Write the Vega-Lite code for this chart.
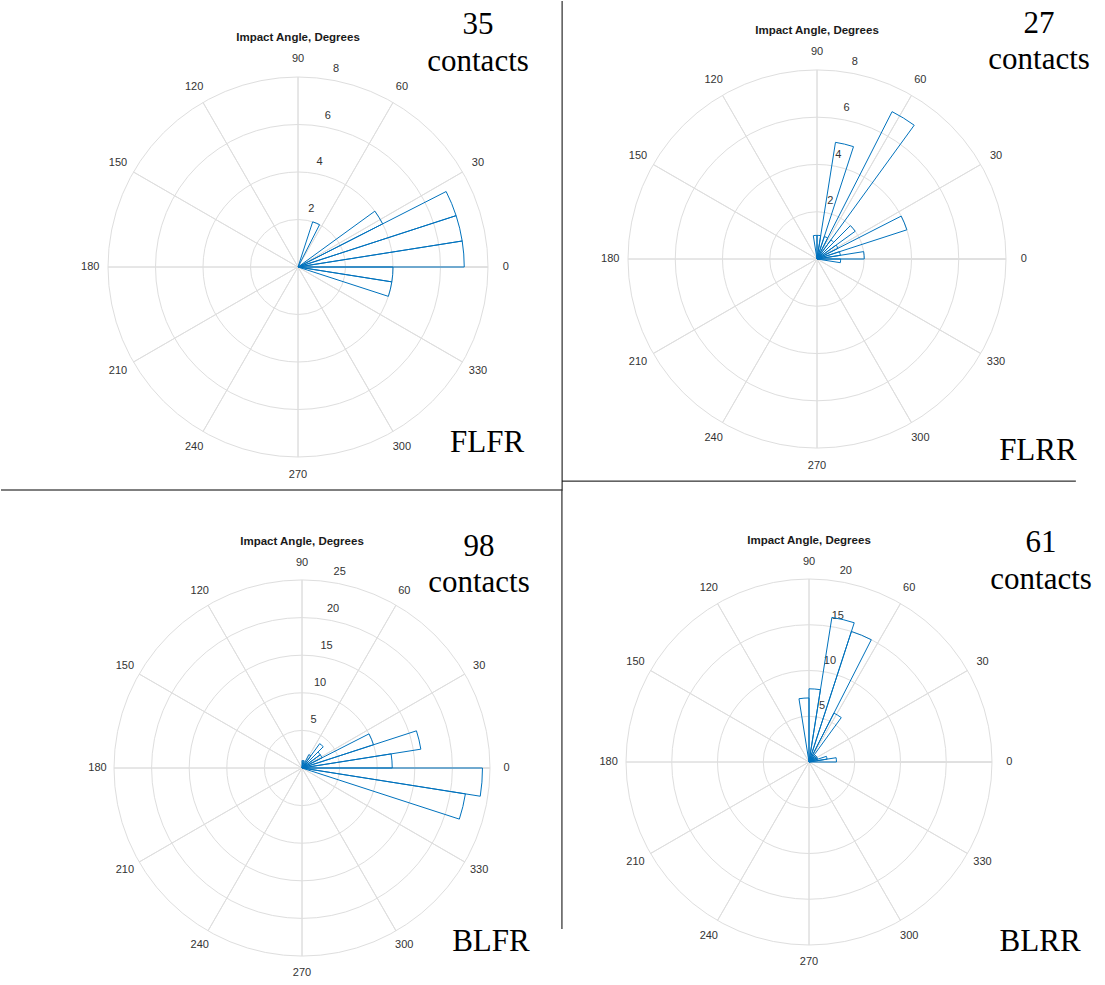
{
  "$schema": "https://vega.github.io/schema/vega-lite/v6.json",
  "padding": 0,
  "background": "white",
  "config": {"view": {"stroke": null}},
  "datasets": {
    "angles": [
      {"a": 0, "lab": "0"}, {"a": 30, "lab": "30"}, {"a": 60, "lab": "60"}, {"a": 90, "lab": "90"},
      {"a": 120, "lab": "120"}, {"a": 150, "lab": "150"}, {"a": 180, "lab": "180"}, {"a": 210, "lab": "210"},
      {"a": 240, "lab": "240"}, {"a": 270, "lab": "270"}, {"a": 300, "lab": "300"}, {"a": 330, "lab": "330"}
    ],
    "bins": [
      {"p": "FLFR", "s": 0, "e": 9, "c": 7}, {"p": "FLFR", "s": 9, "e": 18, "c": 7}, {"p": "FLFR", "s": 18, "e": 27, "c": 7},
      {"p": "FLFR", "s": 27, "e": 36, "c": 4}, {"p": "FLFR", "s": 63, "e": 72, "c": 2}, {"p": "FLFR", "s": 351, "e": 360, "c": 4},
      {"p": "FLFR", "s": 342, "e": 351, "c": 4},
      {"p": "FLRR", "s": 351, "e": 360, "c": 1}, {"p": "FLRR", "s": 0, "e": 9, "c": 2}, {"p": "FLRR", "s": 9, "e": 18, "c": 1},
      {"p": "FLRR", "s": 18, "e": 27, "c": 4}, {"p": "FLRR", "s": 27, "e": 36, "c": 1}, {"p": "FLRR", "s": 36, "e": 45, "c": 2},
      {"p": "FLRR", "s": 45, "e": 54, "c": 1}, {"p": "FLRR", "s": 54, "e": 63, "c": 7}, {"p": "FLRR", "s": 63, "e": 72, "c": 1},
      {"p": "FLRR", "s": 72, "e": 81, "c": 5}, {"p": "FLRR", "s": 81, "e": 90, "c": 1}, {"p": "FLRR", "s": 90, "e": 99, "c": 1},
      {"p": "BLFR", "s": 342, "e": 351, "c": 22}, {"p": "BLFR", "s": 351, "e": 360, "c": 24}, {"p": "BLFR", "s": 0, "e": 9, "c": 12},
      {"p": "BLFR", "s": 9, "e": 18, "c": 16}, {"p": "BLFR", "s": 18, "e": 27, "c": 10}, {"p": "BLFR", "s": 27, "e": 36, "c": 3},
      {"p": "BLFR", "s": 36, "e": 45, "c": 3}, {"p": "BLFR", "s": 45, "e": 54, "c": 4}, {"p": "BLFR", "s": 54, "e": 63, "c": 2},
      {"p": "BLFR", "s": 72, "e": 81, "c": 1}, {"p": "BLFR", "s": 81, "e": 90, "c": 1},
      {"p": "BLRR", "s": 0, "e": 9, "c": 3}, {"p": "BLRR", "s": 9, "e": 18, "c": 2}, {"p": "BLRR", "s": 18, "e": 27, "c": 1},
      {"p": "BLRR", "s": 27, "e": 36, "c": 1}, {"p": "BLRR", "s": 36, "e": 45, "c": 1}, {"p": "BLRR", "s": 45, "e": 54, "c": 1},
      {"p": "BLRR", "s": 54, "e": 63, "c": 6}, {"p": "BLRR", "s": 63, "e": 72, "c": 15}, {"p": "BLRR", "s": 72, "e": 81, "c": 16},
      {"p": "BLRR", "s": 81, "e": 90, "c": 8}, {"p": "BLRR", "s": 90, "e": 99, "c": 7}
    ]
  },
  "columns": 2,
  "spacing": 0,
  "bounds": "flush",
  "align": "each",
  "concat": [
    {
      "width": 594, "height": 532,
      "layer": [
        {"data": {"values": [{"r": 2}, {"r": 4}, {"r": 6}, {"r": 8}]},
         "mark": {"type": "arc", "filled": false, "stroke": "#dedede", "strokeWidth": 1},
         "encoding": {
           "theta": {"datum": 0, "type": "quantitative", "stack": null, "scale": {"type": "linear", "domain": [0, 360], "range": [1.5707963, -4.712389], "nice": false, "zero": false}},
           "theta2": {"datum": 360},
           "radius": {"field": "r", "type": "quantitative", "scale": {"type": "linear", "domain": [0, 8], "range": [0, 190], "nice": false, "zero": true}},
           "radius2": {"datum": 0}}},
        {"data": {"name": "angles"},
         "mark": {"type": "arc", "filled": false, "stroke": "#dedede", "strokeWidth": 1},
         "encoding": {
           "theta": {"field": "a", "type": "quantitative", "stack": null},
           "theta2": {"field": "a"},
           "radius": {"datum": 8, "type": "quantitative"},
           "radius2": {"datum": 0}}},
        {"data": {"name": "angles"},
         "mark": {"type": "text", "font": "Liberation Sans", "fontSize": 11, "color": "#333333", "align": "center", "baseline": "middle"},
         "encoding": {
           "theta": {"field": "a", "type": "quantitative", "stack": null},
           "radius": {"datum": 8.75, "type": "quantitative"},
           "text": {"field": "lab"}}},
        {"data": {"values": [{"r": 2}, {"r": 4}, {"r": 6}, {"r": 8}]},
         "mark": {"type": "text", "font": "Liberation Sans", "fontSize": 11, "color": "#333333", "align": "center", "baseline": "middle", "dx": 5, "dy": -11},
         "encoding": {
           "theta": {"datum": 80, "type": "quantitative", "stack": null},
           "radius": {"field": "r", "type": "quantitative"},
           "text": {"field": "r", "type": "quantitative"}}},
        {"data": {"name": "bins"}, "transform": [{"filter": "datum.p == 'FLFR'"}],
         "mark": {"type": "arc", "filled": false, "stroke": "#0072BD", "strokeWidth": 1},
         "encoding": {
           "theta": {"field": "s", "type": "quantitative", "stack": null},
           "theta2": {"field": "e"},
           "radius": {"field": "c", "type": "quantitative"},
           "radius2": {"datum": 0}}},
        {"data": {"values": [{}]},
         "mark": {"type": "text", "font": "Liberation Sans", "fontWeight": "bold", "fontSize": 11.5, "color": "#1a1a1a", "align": "center", "baseline": "middle"},
         "encoding": {
           "x": {"datum": 0, "type": "quantitative", "axis": null, "scale": {"domain": [-12.505, 12.505], "nice": false, "zero": false}},
           "y": {"datum": 9.64, "type": "quantitative", "axis": null, "scale": {"domain": [-11.2, 11.2], "nice": false, "zero": false}},
           "text": {"value": "Impact Angle, Degrees"}}},
        {"data": {"values": [{}]},
         "mark": {"type": "text", "font": "Liberation Serif", "fontSize": 31, "color": "black", "align": "center", "baseline": "alphabetic"},
         "encoding": {"x": {"datum": 7.58, "type": "quantitative"}, "y": {"datum": 9.81, "type": "quantitative"}, "text": {"value": "35"}}},
        {"data": {"values": [{}]},
         "mark": {"type": "text", "font": "Liberation Serif", "fontSize": 31, "color": "black", "align": "center", "baseline": "alphabetic"},
         "encoding": {"x": {"datum": 7.58, "type": "quantitative"}, "y": {"datum": 8.27, "type": "quantitative"}, "text": {"value": "contacts"}}},
        {"data": {"values": [{}]},
         "mark": {"type": "text", "font": "Liberation Serif", "fontSize": 31, "color": "black", "align": "center", "baseline": "alphabetic"},
         "encoding": {"x": {"datum": 7.96, "type": "quantitative"}, "y": {"datum": -7.79, "type": "quantitative"}, "text": {"value": "FLFR"}}},
        {"data": {"values": [{}]},
         "mark": {"type": "rule", "color": "black", "strokeWidth": 1},
         "encoding": {"x": {"datum": 11.12, "type": "quantitative"}, "y": {"datum": 11.2, "type": "quantitative"}, "y2": {"datum": -9.43}}},
        {"data": {"values": [{}]},
         "mark": {"type": "rule", "color": "black", "strokeWidth": 1},
         "encoding": {"x": {"datum": -12.505, "type": "quantitative"}, "x2": {"datum": 11.12}, "y": {"datum": -9.39, "type": "quantitative"}}}
      ]
    },
    {
      "width": 428, "height": 516,
      "layer": [
        {"data": {"values": [{"r": 2}, {"r": 4}, {"r": 6}, {"r": 8}]},
         "mark": {"type": "arc", "filled": false, "stroke": "#dedede", "strokeWidth": 1},
         "encoding": {
           "theta": {"datum": 0, "type": "quantitative", "stack": null, "scale": {"type": "linear", "domain": [0, 360], "range": [1.5707963, -4.712389], "nice": false, "zero": false}},
           "theta2": {"datum": 360},
           "radius": {"field": "r", "type": "quantitative", "scale": {"type": "linear", "domain": [0, 8], "range": [0, 189], "nice": false, "zero": true}},
           "radius2": {"datum": 0}}},
        {"data": {"name": "angles"},
         "mark": {"type": "arc", "filled": false, "stroke": "#dedede", "strokeWidth": 1},
         "encoding": {
           "theta": {"field": "a", "type": "quantitative", "stack": null},
           "theta2": {"field": "a"},
           "radius": {"datum": 8, "type": "quantitative"},
           "radius2": {"datum": 0}}},
        {"data": {"name": "angles"},
         "mark": {"type": "text", "font": "Liberation Sans", "fontSize": 11, "color": "#333333", "align": "center", "baseline": "middle"},
         "encoding": {
           "theta": {"field": "a", "type": "quantitative", "stack": null},
           "radius": {"datum": 8.75, "type": "quantitative"},
           "text": {"field": "lab"}}},
        {"data": {"values": [{"r": 2}, {"r": 4}, {"r": 6}, {"r": 8}]},
         "mark": {"type": "text", "font": "Liberation Sans", "fontSize": 11, "color": "#333333", "align": "center", "baseline": "middle", "dx": 5, "dy": -11},
         "encoding": {
           "theta": {"datum": 80, "type": "quantitative", "stack": null},
           "radius": {"field": "r", "type": "quantitative"},
           "text": {"field": "r", "type": "quantitative"}}},
        {"data": {"name": "bins"}, "transform": [{"filter": "datum.p == 'FLRR'"}],
         "mark": {"type": "arc", "filled": false, "stroke": "#0072BD", "strokeWidth": 1},
         "encoding": {
           "theta": {"field": "s", "type": "quantitative", "stack": null},
           "theta2": {"field": "e"},
           "radius": {"field": "c", "type": "quantitative"},
           "radius2": {"datum": 0}}},
        {"data": {"values": [{}]},
         "mark": {"type": "text", "font": "Liberation Sans", "fontWeight": "bold", "fontSize": 11.5, "color": "#1a1a1a", "align": "center", "baseline": "middle"},
         "encoding": {
           "x": {"datum": 0, "type": "quantitative", "axis": null, "scale": {"domain": [-9.068, 9.068], "nice": false, "zero": false}},
           "y": {"datum": 9.66, "type": "quantitative", "axis": null, "scale": {"domain": [-10.93, 10.93], "nice": false, "zero": false}},
           "text": {"value": "Impact Angle, Degrees"}}},
        {"data": {"values": [{}]},
         "mark": {"type": "text", "font": "Liberation Serif", "fontSize": 31, "color": "black", "align": "center", "baseline": "alphabetic"},
         "encoding": {"x": {"datum": 9.41, "type": "quantitative"}, "y": {"datum": 9.56, "type": "quantitative"}, "text": {"value": "27"}}},
        {"data": {"values": [{}]},
         "mark": {"type": "text", "font": "Liberation Serif", "fontSize": 31, "color": "black", "align": "center", "baseline": "alphabetic"},
         "encoding": {"x": {"datum": 9.41, "type": "quantitative"}, "y": {"datum": 8.05, "type": "quantitative"}, "text": {"value": "contacts"}}},
        {"data": {"values": [{}]},
         "mark": {"type": "text", "font": "Liberation Serif", "fontSize": 31, "color": "black", "align": "center", "baseline": "alphabetic"},
         "encoding": {"x": {"datum": 9.36, "type": "quantitative"}, "y": {"datum": -8.52, "type": "quantitative"}, "text": {"value": "FLRR"}}},
        {"data": {"values": [{}]},
         "mark": {"type": "rule", "color": "black", "strokeWidth": 1},
         "encoding": {"x": {"datum": -10.8, "type": "quantitative"}, "x2": {"datum": 10.97}, "y": {"datum": -9.41, "type": "quantitative"}}}
      ]
    },
    {
      "width": 602, "height": 470,
      "layer": [
        {"data": {"values": [{"r": 5}, {"r": 10}, {"r": 15}, {"r": 20}, {"r": 25}]},
         "mark": {"type": "arc", "filled": false, "stroke": "#dedede", "strokeWidth": 1},
         "encoding": {
           "theta": {"datum": 0, "type": "quantitative", "stack": null, "scale": {"type": "linear", "domain": [0, 360], "range": [1.5707963, -4.712389], "nice": false, "zero": false}},
           "theta2": {"datum": 360},
           "radius": {"field": "r", "type": "quantitative", "scale": {"type": "linear", "domain": [0, 25], "range": [0, 188], "nice": false, "zero": true}},
           "radius2": {"datum": 0}}},
        {"data": {"name": "angles"},
         "mark": {"type": "arc", "filled": false, "stroke": "#dedede", "strokeWidth": 1},
         "encoding": {
           "theta": {"field": "a", "type": "quantitative", "stack": null},
           "theta2": {"field": "a"},
           "radius": {"datum": 25, "type": "quantitative"},
           "radius2": {"datum": 0}}},
        {"data": {"name": "angles"},
         "mark": {"type": "text", "font": "Liberation Sans", "fontSize": 11, "color": "#333333", "align": "center", "baseline": "middle"},
         "encoding": {
           "theta": {"field": "a", "type": "quantitative", "stack": null},
           "radius": {"datum": 27.2, "type": "quantitative"},
           "text": {"field": "lab"}}},
        {"data": {"values": [{"r": 5}, {"r": 10}, {"r": 15}, {"r": 20}, {"r": 25}]},
         "mark": {"type": "text", "font": "Liberation Sans", "fontSize": 11, "color": "#333333", "align": "center", "baseline": "middle", "dx": 5, "dy": -11},
         "encoding": {
           "theta": {"datum": 80, "type": "quantitative", "stack": null},
           "radius": {"field": "r", "type": "quantitative"},
           "text": {"field": "r", "type": "quantitative"}}},
        {"data": {"name": "bins"}, "transform": [{"filter": "datum.p == 'BLFR'"}],
         "mark": {"type": "arc", "filled": false, "stroke": "#0072BD", "strokeWidth": 1},
         "encoding": {
           "theta": {"field": "s", "type": "quantitative", "stack": null},
           "theta2": {"field": "e"},
           "radius": {"field": "c", "type": "quantitative"},
           "radius2": {"datum": 0}}},
        {"data": {"values": [{}]},
         "mark": {"type": "text", "font": "Liberation Sans", "fontWeight": "bold", "fontSize": 11.5, "color": "#1a1a1a", "align": "center", "baseline": "middle"},
         "encoding": {
           "x": {"datum": 0, "type": "quantitative", "axis": null, "scale": {"domain": [-40.03, 40.03], "nice": false, "zero": false}},
           "y": {"datum": 30.05, "type": "quantitative", "axis": null, "scale": {"domain": [-31.25, 31.25], "nice": false, "zero": false}},
           "text": {"value": "Impact Angle, Degrees"}}},
        {"data": {"values": [{}]},
         "mark": {"type": "text", "font": "Liberation Serif", "fontSize": 31, "color": "black", "align": "center", "baseline": "alphabetic"},
         "encoding": {"x": {"datum": 23.54, "type": "quantitative"}, "y": {"datum": 28.13, "type": "quantitative"}, "text": {"value": "98"}}},
        {"data": {"values": [{}]},
         "mark": {"type": "text", "font": "Liberation Serif", "fontSize": 31, "color": "black", "align": "center", "baseline": "alphabetic"},
         "encoding": {"x": {"datum": 23.54, "type": "quantitative"}, "y": {"datum": 23.4, "type": "quantitative"}, "text": {"value": "contacts"}}},
        {"data": {"values": [{}]},
         "mark": {"type": "text", "font": "Liberation Serif", "fontSize": 31, "color": "black", "align": "center", "baseline": "alphabetic"},
         "encoding": {"x": {"datum": 25.13, "type": "quantitative"}, "y": {"datum": -24.34, "type": "quantitative"}, "text": {"value": "BLFR"}}},
        {"data": {"values": [{}]},
         "mark": {"type": "rule", "color": "black", "strokeWidth": 1},
         "encoding": {"x": {"datum": 34.57, "type": "quantitative"}, "y": {"datum": 36.84, "type": "quantitative"}, "y2": {"datum": -21.41}}}
      ]
    },
    {
      "width": 412, "height": 458,
      "layer": [
        {"data": {"values": [{"r": 5}, {"r": 10}, {"r": 15}, {"r": 20}]},
         "mark": {"type": "arc", "filled": false, "stroke": "#dedede", "strokeWidth": 1},
         "encoding": {
           "theta": {"datum": 0, "type": "quantitative", "stack": null, "scale": {"type": "linear", "domain": [0, 360], "range": [1.5707963, -4.712389], "nice": false, "zero": false}},
           "theta2": {"datum": 360},
           "radius": {"field": "r", "type": "quantitative", "scale": {"type": "linear", "domain": [0, 20], "range": [0, 183], "nice": false, "zero": true}},
           "radius2": {"datum": 0}}},
        {"data": {"name": "angles"},
         "mark": {"type": "arc", "filled": false, "stroke": "#dedede", "strokeWidth": 1},
         "encoding": {
           "theta": {"field": "a", "type": "quantitative", "stack": null},
           "theta2": {"field": "a"},
           "radius": {"datum": 20, "type": "quantitative"},
           "radius2": {"datum": 0}}},
        {"data": {"name": "angles"},
         "mark": {"type": "text", "font": "Liberation Sans", "fontSize": 11, "color": "#333333", "align": "center", "baseline": "middle"},
         "encoding": {
           "theta": {"field": "a", "type": "quantitative", "stack": null},
           "radius": {"datum": 21.9, "type": "quantitative"},
           "text": {"field": "lab"}}},
        {"data": {"values": [{"r": 5}, {"r": 10}, {"r": 15}, {"r": 20}]},
         "mark": {"type": "text", "font": "Liberation Sans", "fontSize": 11, "color": "#333333", "align": "center", "baseline": "middle", "dx": 5, "dy": -11},
         "encoding": {
           "theta": {"datum": 80, "type": "quantitative", "stack": null},
           "radius": {"field": "r", "type": "quantitative"},
           "text": {"field": "r", "type": "quantitative"}}},
        {"data": {"name": "bins"}, "transform": [{"filter": "datum.p == 'BLRR'"}],
         "mark": {"type": "arc", "filled": false, "stroke": "#0072BD", "strokeWidth": 1},
         "encoding": {
           "theta": {"field": "s", "type": "quantitative", "stack": null},
           "theta2": {"field": "e"},
           "radius": {"field": "c", "type": "quantitative"},
           "radius2": {"datum": 0}}},
        {"data": {"values": [{}]},
         "mark": {"type": "text", "font": "Liberation Sans", "fontWeight": "bold", "fontSize": 11.5, "color": "#1a1a1a", "align": "center", "baseline": "middle"},
         "encoding": {
           "x": {"datum": 0, "type": "quantitative", "axis": null, "scale": {"domain": [-22.51, 22.51], "nice": false, "zero": false}},
           "y": {"datum": 24.15, "type": "quantitative", "axis": null, "scale": {"domain": [-25.03, 25.03], "nice": false, "zero": false}},
           "text": {"value": "Impact Angle, Degrees"}}},
        {"data": {"values": [{}]},
         "mark": {"type": "text", "font": "Liberation Serif", "fontSize": 31, "color": "black", "align": "center", "baseline": "alphabetic"},
         "encoding": {"x": {"datum": 25.36, "type": "quantitative"}, "y": {"datum": 23.0, "type": "quantitative"}, "text": {"value": "61"}}},
        {"data": {"values": [{}]},
         "mark": {"type": "text", "font": "Liberation Serif", "fontSize": 31, "color": "black", "align": "center", "baseline": "alphabetic"},
         "encoding": {"x": {"datum": 25.36, "type": "quantitative"}, "y": {"datum": 18.9, "type": "quantitative"}, "text": {"value": "contacts"}}},
        {"data": {"values": [{}]},
         "mark": {"type": "text", "font": "Liberation Serif", "fontSize": 31, "color": "black", "align": "center", "baseline": "alphabetic"},
         "encoding": {"x": {"datum": 25.25, "type": "quantitative"}, "y": {"datum": -20.66, "type": "quantitative"}, "text": {"value": "BLRR"}}}
      ]
    }
  ]
}
